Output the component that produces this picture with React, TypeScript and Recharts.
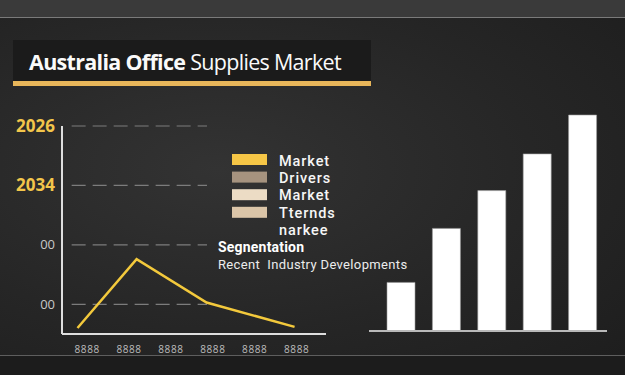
import React from 'react';
import {
  LineChart, Line, BarChart, Bar, XAxis, YAxis, ReferenceLine,
} from 'recharts';

// line chart (left)
const lineX = [-0.23, 1.18, 2.85, 4.95];
const lineY = [0.1, 1.26, 0.53, 0.12];
const yTickValues = [0.5, 1.5, 2.5, 3.5];
const yTickLabels = ['00', '00', '2034', '2026'];
const xTickValues = [0, 1, 2, 3, 4, 5];
const xTickLabels = ['8888', '8888', '8888', '8888', '8888', '8888'];

// bar chart (right)
const barCategories = ['A', 'B', 'C', 'D', 'E'];
const barValues = [22.5, 47.5, 65, 82, 100];

// legend block
const legendLabels = ['Market', 'Drivers', 'Market', 'Tternds'];
const legendColors = ['#f6c646', '#a6937f', '#ecdcc5', '#dbc5a8'];
const legendExtra = 'narkee';
const legendHeading = 'Segnentation';
const legendNote = 'Recent  Industry Developments';

const FONT = '"Open Sans", "Noto Sans", sans-serif';
const LEGEND_FONT = 'Roboto, "Open Sans", sans-serif';

const lineData = lineX.map((x, i) => ({ x, y: lineY[i] }));
const barData = barCategories.map((c, i) => ({ name: c, value: barValues[i] }));

const YTick = (props: any) => {
  const { x, y, payload } = props;
  const idx = yTickValues.indexOf(payload.value);
  const label = yTickLabels[idx];
  const isYear = label.length > 2;
  return (
    <text
      x={x + 1}
      y={y}
      dy={isYear ? 6 : 4.5}
      textAnchor="end"
      fontFamily={FONT}
      fontSize={isYear ? 17 : 13}
      fontWeight={isYear ? 700 : 400}
      fill={isYear ? '#f3c64b' : '#c8c8c8'}
    >
      {label}
    </text>
  );
};

const XTick = (props: any) => {
  const { x, y, payload } = props;
  const label = xTickLabels[xTickValues.indexOf(payload.value)];
  return (
    <text x={x} y={y} dy={11} textAnchor="middle" fontFamily={FONT} fontSize={10} fill="#bdbdbd" letterSpacing={0.6}>
      {label}
    </text>
  );
};

const Legend = () => {
  const step = 17.2;
  return (
    <svg width={625} height={375} style={{ position: 'absolute', left: 0, top: 0, pointerEvents: 'none' }}>
      {legendLabels.map((l, i) => (
        <g key={i}>
          <rect x={232} y={154 + i * 17.6} width={35} height={11} fill={legendColors[i]} />
          <text x={279} y={166 + i * step} fontFamily={LEGEND_FONT} fontSize={14.5} fontWeight={500} fill="#f6f6f6" letterSpacing={0.9}>
            {l}
          </text>
        </g>
      ))}
      <text x={279} y={166 + 4 * step} fontFamily={LEGEND_FONT} fontSize={14.5} fontWeight={500} fill="#f6f6f6" letterSpacing={0.9}>
        {legendExtra}
      </text>
      <text x={218} y={251.5} fontFamily={LEGEND_FONT} fontSize={14} fontWeight={700} fill="#ffffff" letterSpacing={0.2}>
        {legendHeading}
      </text>
      <text x={218} y={268.5} fontFamily={LEGEND_FONT} fontSize={13} fontWeight={400} fill="#ececec" style={{ whiteSpace: 'pre' }} letterSpacing={0.35}>
        {legendNote}
      </text>
    </svg>
  );
};

export default function App() {
  return (
    <div
      style={{
        position: 'absolute', left: 0, top: 0, width: 625, height: 375, overflow: 'hidden',
        background: 'radial-gradient(ellipse at 35% 45%, #333333 0%, #262626 55%, #1d1d1d 100%)',
        fontFamily: FONT,
      }}
    >
      {/* top band + rules */}
      <div style={{ position: 'absolute', left: 0, top: 0, width: 625, height: 17, background: '#3a3a3a' }} />
      <div style={{ position: 'absolute', left: 0, top: 17, width: 625, height: 1, background: '#7a7a7a' }} />
      <div style={{ position: 'absolute', left: 0, top: 356, width: 625, height: 19, background: '#1c1c1c' }} />
      <div style={{ position: 'absolute', left: 0, top: 355, width: 625, height: 1, background: '#5e5e5e' }} />

      {/* title */}
      <div style={{ position: 'absolute', left: 13, top: 40, width: 358, height: 41, background: '#1b1b1b' }} />
      <div style={{ position: 'absolute', left: 13, top: 81, width: 358, height: 5, background: '#e8b65a' }} />
      <div
        style={{
          position: 'absolute', left: 29, top: 45, height: 34, lineHeight: '34px',
          color: '#fafafa', fontSize: 21.5, letterSpacing: -0.7, whiteSpace: 'nowrap',
        }}
      >
        <span style={{ fontWeight: 700 }}>Australia Office</span>{' '}
        <span style={{ fontWeight: 400 }}>Supplies Market</span>
      </div>

      {/* line chart */}
      <div style={{ position: 'absolute', left: 0, top: 0 }}>
        <LineChart width={340} height={375} data={lineData} margin={{ top: 126, right: 14, bottom: 11, left: 0 }}>
          <XAxis
            type="number"
            dataKey="x"
            domain={[-0.6, 5.7]}
            ticks={xTickValues}
            tick={<XTick />}
            tickLine={false}
            height={30}
            axisLine={{ stroke: '#dedede', strokeWidth: 2 }}
            allowDataOverflow
          />
          <YAxis
            type="number"
            domain={[0, 3.5]}
            ticks={yTickValues}
            tick={<YTick />}
            tickLine={false}
            width={62}
            axisLine={{ stroke: '#dedede', strokeWidth: 2 }}
          />
          {yTickValues.map((v) => (
            <ReferenceLine
              key={v}
              segment={[{ x: -0.37, y: v }, { x: 2.86, y: v }]}
              stroke="#7c7c7c"
              strokeWidth={1.2}
              strokeDasharray="14 7"
            />
          ))}
          <Line
            type="linear"
            dataKey="y"
            stroke="#f3c93c"
            strokeWidth={2.5}
            dot={false}
            isAnimationActive={false}
          />
        </LineChart>
      </div>

      <Legend />

      {/* bar chart */}
      <div style={{ position: 'absolute', left: 0, top: 0 }}>
        <BarChart
          width={625}
          height={375}
          data={barData}
          margin={{ top: 115, right: 18, bottom: 43, left: 369 }}
        >
          <XAxis
            dataKey="name"
            tick={false}
            tickLine={false}
            height={1}
            padding={{ left: 9, right: 2 }}
            axisLine={{ stroke: '#b9b9b9', strokeWidth: 2 }}
          />
          <YAxis hide domain={[0, 100]} />
          <Bar
            dataKey="value"
            fill="#ffffff"
            stroke="#9a9a9a"
            strokeWidth={0.6}
            barSize={28}
            isAnimationActive={false}
          />
        </BarChart>
      </div>
    </div>
  );
}
